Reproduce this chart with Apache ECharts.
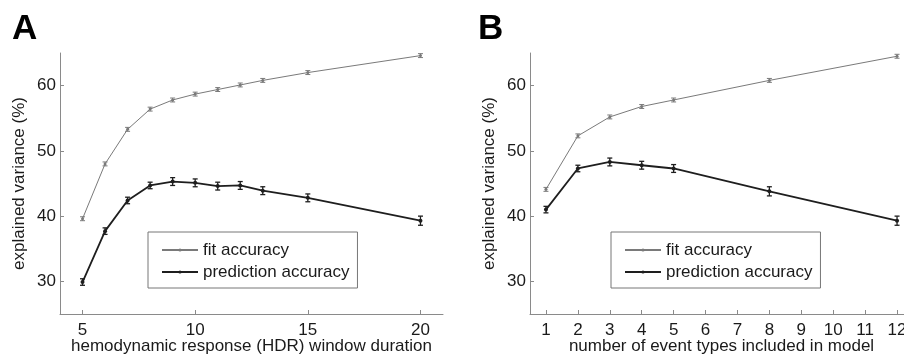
<!DOCTYPE html>
<html>
<head>
<meta charset="utf-8">
<script src="https://cdn.jsdelivr.net/npm/echarts@6/dist/echarts.min.js"></script>
<style>
html,body{margin:0;padding:0;background:#fff;}
#c{width:904px;height:357px;}
</style>
</head>
<body>
<div id="c"></div>
<script>
// Panel A: HDR window duration
const xA = [5, 6, 7, 8, 9, 10, 11, 12, 13, 15, 20];
const fitA = [39.6, 48.0, 53.3, 56.4, 57.8, 58.7, 59.4, 60.1, 60.8, 62.0, 64.6];
const predA = [29.9, 37.7, 42.4, 44.7, 45.3, 45.1, 44.6, 44.7, 43.9, 42.8, 39.3];
const fitErrA = [0.3, 0.3, 0.3, 0.3, 0.3, 0.3, 0.3, 0.3, 0.3, 0.3, 0.3];
const predErrA = [0.5, 0.5, 0.5, 0.5, 0.6, 0.6, 0.6, 0.6, 0.6, 0.6, 0.7];
const xTicksA = [5, 10, 15, 20];

// Panel B: number of event types
const xB = [1, 2, 3, 4, 5, 8, 12];
const fitB = [44.1, 52.3, 55.2, 56.8, 57.8, 60.8, 64.5];
const predB = [41.0, 47.3, 48.3, 47.8, 47.3, 43.8, 39.3];
const fitErrB = [0.3, 0.3, 0.3, 0.3, 0.3, 0.3, 0.3];
const predErrB = [0.5, 0.5, 0.6, 0.6, 0.6, 0.7, 0.7];
const xTicksB = [1, 2, 3, 4, 5, 6, 7, 8, 9, 10, 11, 12];

const yTicks = [30, 40, 50, 60];
const names = ['fit accuracy', 'prediction accuracy'];

const FONT = 'Liberation Sans, Arial, Helvetica, sans-serif';
const TXT = '#1a1a1a';
const AX = '#8a8a8a';
const FIT_C = '#7a7a7a';
const PRED_C = '#1e1e1e';

function zip(xs, ys, es) { return xs.map((x, i) => es ? [x, ys[i], es[i]] : [x, ys[i]]); }

function errRender(color, lw) {
  return function (params, api) {
    const x = api.value(0), y = api.value(1), e = api.value(2);
    const lo = api.coord([x, y - e]);
    const hi = api.coord([x, y + e]);
    const w = 2.5;
    const st = { stroke: color, lineWidth: lw };
    return {
      type: 'group', children: [
        { type: 'line', shape: { x1: lo[0], y1: lo[1], x2: hi[0], y2: hi[1] }, style: st },
        { type: 'line', shape: { x1: lo[0] - w, y1: lo[1], x2: lo[0] + w, y2: lo[1] }, style: st },
        { type: 'line', shape: { x1: hi[0] - w, y1: hi[1], x2: hi[0] + w, y2: hi[1] }, style: st }
      ]
    };
  };
}

function xAxisDef(gi, min, max, ticks, name) {
  return {
    type: 'value', gridIndex: gi, min: min, max: max,
    name: name, nameLocation: 'middle', nameGap: 24, nameMoveOverlap: false,
    nameTextStyle: { fontFamily: FONT, fontSize: 17, color: TXT },
    axisLine: { show: true, lineStyle: { color: AX, width: 1 } },
    axisTick: { show: true, inside: true, length: 4, lineStyle: { color: AX }, customValues: ticks },
    axisLabel: { fontFamily: FONT, fontSize: 17, color: TXT, margin: 8, customValues: ticks },
    splitLine: { show: false }
  };
}
function yAxisDef(gi) {
  return {
    type: 'value', gridIndex: gi, min: 25, max: 65,
    name: 'explained variance (%)', nameLocation: 'middle', nameGap: 32, nameMoveOverlap: false,
    nameTextStyle: { fontFamily: FONT, fontSize: 17, color: TXT },
    axisLine: { show: true, lineStyle: { color: AX, width: 1 } },
    axisTick: { show: true, inside: true, length: 4, lineStyle: { color: AX }, customValues: yTicks },
    axisLabel: { fontFamily: FONT, fontSize: 17, color: TXT, margin: 4, customValues: yTicks },
    splitLine: { show: false }
  };
}
function lineSeries(name, gi, xs, ys, color, lw, sz) {
  return {
    name: name, type: 'line', xAxisIndex: gi, yAxisIndex: gi,
    data: zip(xs, ys), symbol: 'circle', symbolSize: sz, showSymbol: true,
    lineStyle: { color: color, width: lw }, itemStyle: { color: color },
    animation: false, z: 3
  };
}
function errSeries(name, gi, xs, ys, es, color, lw) {
  return {
    name: name, type: 'custom', xAxisIndex: gi, yAxisIndex: gi,
    data: zip(xs, ys, es), renderItem: errRender(color, lw),
    encode: { x: 0, y: 1 }, animation: false, z: 4, itemStyle: { color: color }
  };
}
function legendDef(left) {
  return {
    left: left, top: 232, orient: 'vertical', data: names,
    itemWidth: 36, itemHeight: 4, itemGap: 2,
    padding: [8, 8, 6, 13],
    borderColor: '#777', borderWidth: 1, backgroundColor: '#fff',
    textStyle: { fontFamily: FONT, fontSize: 17, color: TXT, lineHeight: 20 },
    selectedMode: false
  };
}

const chart = echarts.init(document.getElementById('c'), null, { renderer: 'canvas' });
chart.setOption({
  animation: false,
  backgroundColor: '#fff',
  title: [
    { text: 'A', left: 7, top: 7, textStyle: { fontFamily: FONT, fontSize: 35, fontWeight: 'bold', color: '#000' } },
    { text: 'B', left: 473, top: 7, textStyle: { fontFamily: FONT, fontSize: 35, fontWeight: 'bold', color: '#000' } }
  ],
  grid: [
    { left: 60, right: 461, top: 53, bottom: 43, outerBoundsMode: 'none', containLabel: false },
    { left: 530, right: -9, top: 53, bottom: 43, outerBoundsMode: 'none', containLabel: false }
  ],
  xAxis: [
    xAxisDef(0, 4, 21, xTicksA, 'hemodynamic response (HDR) window duration'),
    xAxisDef(1, 0.5, 12.5, xTicksB, 'number of event types included in model')
  ],
  yAxis: [yAxisDef(0), yAxisDef(1)],
  legend: [legendDef(148), legendDef(611)],
  series: [
    lineSeries(names[0], 0, xA, fitA, FIT_C, 1, 3),
    lineSeries(names[1], 0, xA, predA, PRED_C, 1.8, 4),
    errSeries('errFitA', 0, xA, fitA, fitErrA, FIT_C, 1),
    errSeries('errPredA', 0, xA, predA, predErrA, PRED_C, 1.3),
    lineSeries(names[0], 1, xB, fitB, FIT_C, 1, 3),
    lineSeries(names[1], 1, xB, predB, PRED_C, 1.8, 4),
    errSeries('errFitB', 1, xB, fitB, fitErrB, FIT_C, 1),
    errSeries('errPredB', 1, xB, predB, predErrB, PRED_C, 1.3)
  ]
});
</script>
</body>
</html>
